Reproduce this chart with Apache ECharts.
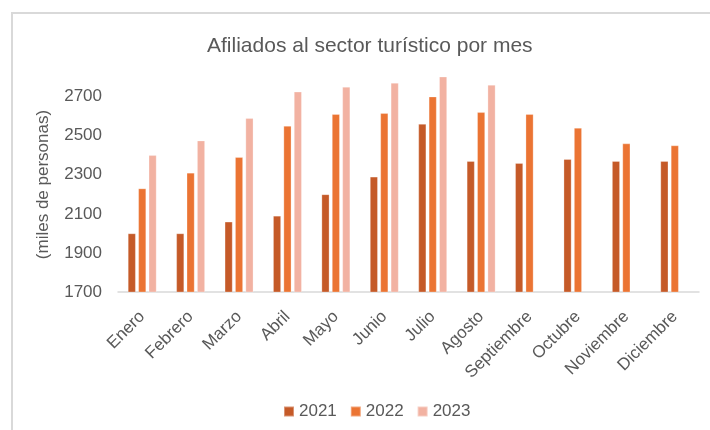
<!DOCTYPE html>
<html>
<head>
<meta charset="utf-8">
<script src="https://cdn.jsdelivr.net/npm/echarts@6/dist/echarts.min.js"></script>
<style>
html,body{margin:0;padding:0;background:#fff;}
#c{width:710px;height:430px;}
</style>
</head>
<body>
<div id="c"></div>
<script>
const months = ["Enero","Febrero","Marzo","Abril","Mayo","Junio","Julio","Agosto","Septiembre","Octubre","Noviembre","Diciembre"];
const s2021 = [2000,2000,2060,2090,2200,2290,2560,2370,2360,2380,2370,2370];
const s2022 = [2230,2310,2390,2550,2610,2615,2700,2620,2610,2540,2460,2450];
const s2023 = [2400,2475,2590,2725,2750,2770,2805,2760,null,null,null,null];
const yTickLabels = [1700,1900,2100,2300,2500,2700];

const font = '"Liberation Sans", Arial, sans-serif';
const txt = '#595959';
const chart = echarts.init(document.getElementById('c'), null, {renderer:'canvas'});
const mk = (name, data, color) => ({
  name, type:'bar', data, barWidth:8, barGap:'30%',
  itemStyle:{color, borderColor:'rgba(255,255,255,0.35)', borderWidth:0.8},
  emphasis:{disabled:true}
});
chart.setOption({
  animation:false,
  textStyle:{fontFamily:font},
  title:{text:'Afiliados al sector turístico por mes', left:202, top:31,
    textStyle:{fontFamily:font, fontSize:21, fontWeight:'normal', color:txt}},
  graphic:[{type:'rect', shape:{x:12,y:13,width:720,height:440}, style:{fill:'none', stroke:'#d9d9d9', lineWidth:2}, silent:true, z:-1}],
  legend:{data:['2021','2022','2023'], left:278, top:398, icon:'rect', itemWidth:10, itemHeight:10, itemGap:13,
    textStyle:{fontFamily:font, fontSize:17, color:txt}},
  grid:{left:118, right:11, top:77, bottom:138, containLabel:false},
  xAxis:{type:'category', data:months,
    axisLine:{lineStyle:{color:'#d9d9d9', width:1.5}}, axisTick:{show:false},
    axisLabel:{rotate:45, margin:22, interval:0, fontFamily:font, fontSize:17, color:txt}},
  yAxis:{type:'value', min:1700, max:2800, interval:100,
    name:'(miles de personas)', nameLocation:'middle', nameGap:66,
    nameTextStyle:{fontFamily:font, fontSize:17, color:txt},
    axisLine:{show:false}, axisTick:{show:false}, splitLine:{show:false},
    axisLabel:{margin:16, fontFamily:font, fontSize:17, color:txt,
      formatter:v => yTickLabels.includes(v) ? String(v) : ''}},
  series:[mk('2021', s2021, '#C55A28'), mk('2022', s2022, '#EB7433'), mk('2023', s2023, '#F2B2A2')]
});
</script>
</body>
</html>
